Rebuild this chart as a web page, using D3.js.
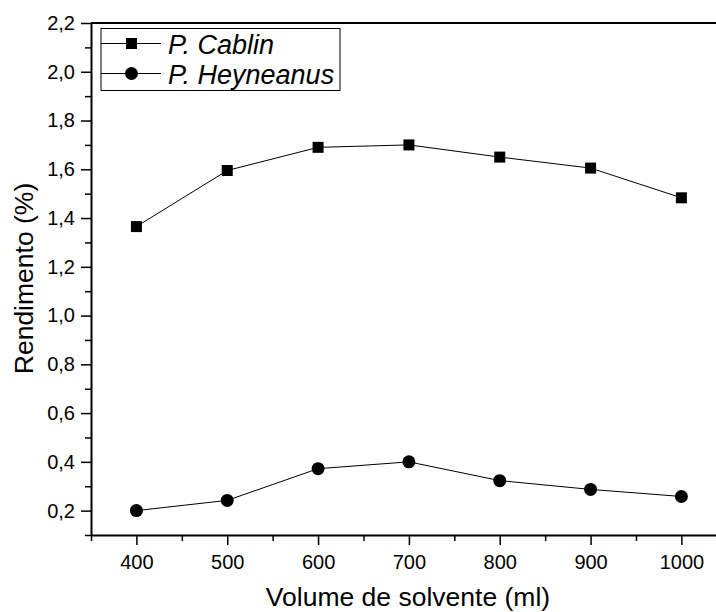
<!DOCTYPE html>
<html>
<head>
<meta charset="utf-8">
<script src="https://cdn.jsdelivr.net/npm/d3@7"></script>
<style>
  body { margin: 0; background: #fff; }
  svg { font-family: "Liberation Sans", Arial, sans-serif; }
</style>
</head>
<body>
<script>
var volumes = [400, 500, 600, 700, 800, 900, 1000]
var cablin = [1.365, 1.595, 1.69, 1.70, 1.65, 1.605, 1.483]
var heyneanus = [0.20, 0.242, 0.372, 0.40, 0.323, 0.287, 0.258]
var seriesNames = ["P. Cablin", "P. Heyneanus"]
var yTicks = [0.2, 0.4, 0.6, 0.8, 1.0, 1.2, 1.4, 1.6, 1.8, 2.0, 2.2]
var yMinorTicks = [0.1, 0.3, 0.5, 0.7, 0.9, 1.1, 1.3, 1.5, 1.7, 1.9, 2.1]
var xTicks = [400, 500, 600, 700, 800, 900, 1000]
var xMinorTicks = [350, 450, 550, 650, 750, 850, 950]

var width = 716, height = 612
var plotLeft = 91, plotTop = 23, plotBottom = 535

var svg = d3.select("body").append("svg")
  .attr("width", width)
  .attr("height", height)

var x = d3.scaleLinear().domain([350, 1050]).range([plotLeft, plotLeft + 700 * 0.9083])
var y = d3.scaleLinear().domain([0.1, 2.2]).range([plotBottom, plotTop])

var fmt = function(d) { return d3.format(".1f")(d).replace(".", ",") }

// minor ticks first
svg.append("g")
  .attr("transform", "translate(" + plotLeft + ",0)")
  .call(d3.axisLeft(y).tickValues(yMinorTicks).tickSize(6).tickFormat("").tickSizeOuter(0))
  .call(function(g) { g.select(".domain").remove() })

svg.append("g")
  .attr("transform", "translate(0," + plotBottom + ")")
  .call(d3.axisBottom(x).tickValues(xMinorTicks).tickSize(6).tickFormat("").tickSizeOuter(0))
  .call(function(g) { g.select(".domain").remove() })

// major axes
svg.append("g")
  .attr("transform", "translate(" + plotLeft + ",0)")
  .call(d3.axisLeft(y).tickValues(yTicks).tickSize(10).tickPadding(6).tickFormat(fmt).tickSizeOuter(0))

svg.append("g")
  .attr("transform", "translate(0," + plotBottom + ")")
  .call(d3.axisBottom(x).tickValues(xTicks).tickSize(10).tickPadding(10).tickFormat(d3.format("d")).tickSizeOuter(0))

svg.selectAll(".tick line").attr("stroke", "#000").attr("stroke-width", 1.5)
svg.selectAll(".domain").attr("stroke", "#000").attr("stroke-width", 2)
svg.selectAll(".tick text").attr("font-size", 20).attr("fill", "#000")
  .attr("font-family", "Liberation Sans, Arial, sans-serif")

// top frame line
svg.append("line")
  .attr("x1", plotLeft).attr("x2", width)
  .attr("y1", plotTop).attr("y2", plotTop)
  .attr("stroke", "#000").attr("stroke-width", 2)

// axis titles
svg.append("text")
  .attr("x", 408)
  .attr("y", 606)
  .attr("text-anchor", "middle")
  .attr("font-size", 26.5)
  .text("Volume de solvente (ml)")

svg.append("text")
  .attr("transform", "translate(33,278.5) rotate(-90)")
  .attr("text-anchor", "middle")
  .attr("font-size", 26.5)
  .text("Rendimento (%)")

// series
var line = d3.line()
  .x(function(d) { return x(d[0]) })
  .y(function(d) { return y(d[1]) })

var cablinPts = volumes.map(function(v, i) { return [v, cablin[i]] })
var heyPts = volumes.map(function(v, i) { return [v, heyneanus[i]] })

svg.append("path")
  .datum(cablinPts)
  .attr("d", line)
  .attr("fill", "none")
  .attr("stroke", "#000")
  .attr("stroke-width", 1)

svg.append("path")
  .datum(heyPts)
  .attr("d", line)
  .attr("fill", "none")
  .attr("stroke", "#000")
  .attr("stroke-width", 1)

svg.selectAll("rect.cablin")
  .data(cablinPts)
  .enter().append("rect")
  .attr("class", "cablin")
  .attr("x", function(d) { return x(d[0]) - 5.5 })
  .attr("y", function(d) { return y(d[1]) - 5.5 })
  .attr("width", 11)
  .attr("height", 11)
  .attr("fill", "#000")

svg.selectAll("circle.hey")
  .data(heyPts)
  .enter().append("circle")
  .attr("class", "hey")
  .attr("cx", function(d) { return x(d[0]) })
  .attr("cy", function(d) { return y(d[1]) })
  .attr("r", 6.5)
  .attr("fill", "#000")

// legend
var legend = svg.append("g")
legend.append("rect")
  .attr("x", 101).attr("y", 28.5)
  .attr("width", 239).attr("height", 62)
  .attr("fill", "#fff")
  .attr("stroke", "#000")
  .attr("stroke-width", 1)

var rowsY = [43.5, 73.5]
seriesNames.forEach(function(name, i) {
  var cy = rowsY[i]
  legend.append("line")
    .attr("x1", 101).attr("x2", 161)
    .attr("y1", cy).attr("y2", cy)
    .attr("stroke", "#000").attr("stroke-width", 1)
  if (i === 0) {
    legend.append("rect")
      .attr("x", 131.5 - 5.5).attr("y", cy - 5.5)
      .attr("width", 11).attr("height", 11)
      .attr("fill", "#000")
  } else {
    legend.append("circle")
      .attr("cx", 131.5).attr("cy", cy)
      .attr("r", 6.5)
      .attr("fill", "#000")
  }
  legend.append("text")
    .attr("x", 168)
    .attr("y", cy + 10)
    .attr("font-size", 27)
    .attr("font-style", "italic")
    .text(name)
})
</script>
</body>
</html>
